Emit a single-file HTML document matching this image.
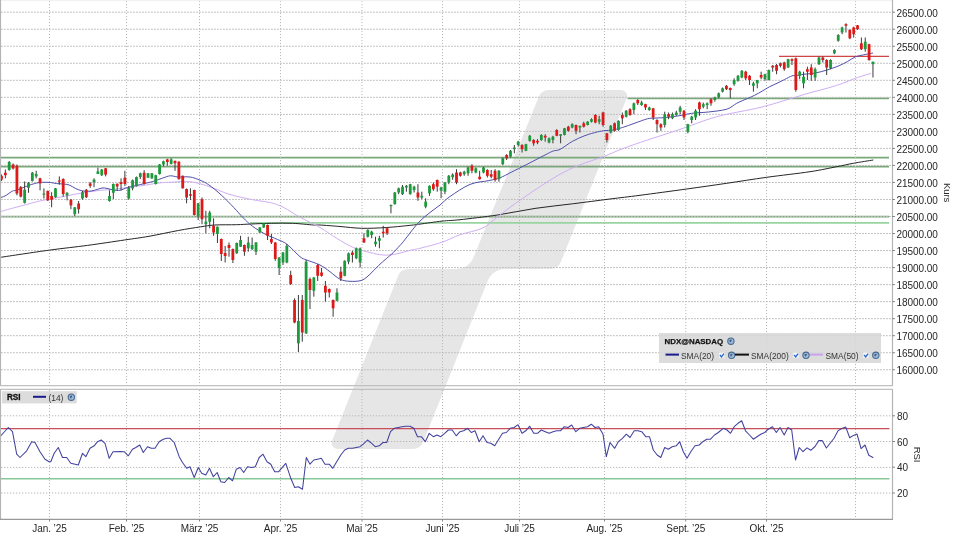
<!DOCTYPE html>
<html><head><meta charset="utf-8"><style>
html,body{margin:0;padding:0;background:#fff;width:960px;height:540px;overflow:hidden}
svg{display:block;filter:blur(0.35px)}
</style></head><body>
<svg width="960" height="540" viewBox="0 0 960 540">
<rect x="0" y="0" width="960" height="540" fill="#ffffff"/>
<path d="M538.81,96.86 A11,11 0 0 1 549.00,90.00 L621.12,90.00 A6,6 0 0 1 626.69,98.24 L560.77,262.10 A11,11 0 0 1 550.57,269.00 L505.26,269.00 A19,19 0 0 0 487.62,280.94 L423.17,442.09 A11,11 0 0 1 412.95,449.00 L337.66,449.00 A6,6 0 0 1 332.09,440.77 L398.03,275.91 A11,11 0 0 1 408.25,269.00 L456.69,269.00 A18,18 0 0 0 473.36,257.78 Z" fill="#e6e6e6"/>
<g stroke="#7aa87a" stroke-width="1.8" fill="none">
<line x1="1" y1="157.7" x2="889" y2="157.7"/>
<line x1="1" y1="166.7" x2="889" y2="166.7"/>
<line x1="1" y1="216.7" x2="889" y2="216.7"/>
<line x1="250" y1="222.8" x2="889" y2="222.8" stroke="#98d4a0" stroke-width="1.7"/>
<line x1="627.5" y1="98.3" x2="889" y2="98.3"/>
</g>
<line x1="779" y1="56.3" x2="889" y2="56.3" stroke="#d04545" stroke-width="1.3"/>
<g stroke="#bdbdbd" stroke-width="1" stroke-dasharray="1.8 1.2" fill="none">
<line x1="1" y1="369.75" x2="892" y2="369.75"/>
<line x1="1" y1="352.72" x2="892" y2="352.72"/>
<line x1="1" y1="335.69" x2="892" y2="335.69"/>
<line x1="1" y1="318.67" x2="892" y2="318.67"/>
<line x1="1" y1="301.64" x2="892" y2="301.64"/>
<line x1="1" y1="284.62" x2="892" y2="284.62"/>
<line x1="1" y1="267.59" x2="892" y2="267.59"/>
<line x1="1" y1="250.56" x2="892" y2="250.56"/>
<line x1="1" y1="233.54" x2="892" y2="233.54"/>
<line x1="1" y1="216.51" x2="892" y2="216.51"/>
<line x1="1" y1="199.49" x2="892" y2="199.49"/>
<line x1="1" y1="182.46" x2="892" y2="182.46"/>
<line x1="1" y1="165.43" x2="892" y2="165.43"/>
<line x1="1" y1="148.41" x2="892" y2="148.41"/>
<line x1="1" y1="131.38" x2="892" y2="131.38"/>
<line x1="1" y1="114.36" x2="892" y2="114.36"/>
<line x1="1" y1="97.33" x2="892" y2="97.33"/>
<line x1="1" y1="80.30" x2="892" y2="80.30"/>
<line x1="1" y1="63.28" x2="892" y2="63.28"/>
<line x1="1" y1="46.25" x2="892" y2="46.25"/>
<line x1="1" y1="29.23" x2="892" y2="29.23"/>
<line x1="1" y1="12.20" x2="892" y2="12.20"/>
</g>
<g stroke="#b8b8b8" stroke-width="1" stroke-dasharray="1.3 1.7" fill="none">
<line x1="1" y1="415.8" x2="892" y2="415.8"/>
<line x1="1" y1="441.5" x2="892" y2="441.5"/>
<line x1="1" y1="467.4" x2="892" y2="467.4"/>
<line x1="1" y1="493.0" x2="892" y2="493.0"/>
</g>
<g stroke="#b8b8b8" stroke-width="1" stroke-dasharray="1.1 1.9" fill="none">
<line x1="49.5" y1="1" x2="49.5" y2="385"/>
<line x1="126.5" y1="1" x2="126.5" y2="385"/>
<line x1="199.5" y1="1" x2="199.5" y2="385"/>
<line x1="280.5" y1="1" x2="280.5" y2="385"/>
<line x1="362" y1="1" x2="362" y2="385"/>
<line x1="442.5" y1="1" x2="442.5" y2="385"/>
<line x1="519.5" y1="1" x2="519.5" y2="385"/>
<line x1="604.5" y1="1" x2="604.5" y2="385"/>
<line x1="685.75" y1="1" x2="685.75" y2="385"/>
<line x1="766.5" y1="1" x2="766.5" y2="385"/>
<line x1="855.5" y1="1" x2="855.5" y2="385"/>
<line x1="49.5" y1="390" x2="49.5" y2="519"/>
<line x1="126.5" y1="390" x2="126.5" y2="519"/>
<line x1="199.5" y1="390" x2="199.5" y2="519"/>
<line x1="280.5" y1="390" x2="280.5" y2="519"/>
<line x1="362" y1="390" x2="362" y2="519"/>
<line x1="442.5" y1="390" x2="442.5" y2="519"/>
<line x1="519.5" y1="390" x2="519.5" y2="519"/>
<line x1="604.5" y1="390" x2="604.5" y2="519"/>
<line x1="685.75" y1="390" x2="685.75" y2="519"/>
<line x1="766.5" y1="390" x2="766.5" y2="519"/>
<line x1="855.5" y1="390" x2="855.5" y2="519"/>
</g>
<path d="M0.00,257.40 C8.27,256.18 35.02,252.10 49.60,250.10 C64.18,248.10 75.03,247.08 87.50,245.40 C99.97,243.72 114.15,241.52 124.40,240.00 C134.65,238.48 140.02,237.88 149.00,236.30 C157.98,234.72 169.77,232.07 178.30,230.50 C186.83,228.93 194.12,227.82 200.20,226.90 C206.28,225.98 208.73,225.37 214.80,225.00 C220.87,224.63 230.60,224.87 236.60,224.70 C242.60,224.53 244.95,224.23 250.80,224.00 C256.65,223.77 264.75,223.42 271.70,223.30 C278.65,223.18 285.57,223.02 292.50,223.30 C299.43,223.58 308.72,224.72 313.30,225.00 C317.88,225.28 315.55,224.75 320.00,225.00 C324.45,225.25 333.05,225.95 340.00,226.50 C346.95,227.05 353.92,228.13 361.70,228.30 C369.48,228.47 378.10,228.05 386.70,227.50 C395.30,226.95 407.75,225.57 413.30,225.00 C418.85,224.43 415.18,224.75 420.00,224.10 C424.82,223.45 435.53,221.83 442.20,221.10 C448.87,220.37 450.78,220.72 460.00,219.70 C469.22,218.68 485.00,216.88 497.50,215.00 C510.00,213.12 522.48,210.27 535.00,208.40 C547.52,206.53 560.10,205.37 572.60,203.80 C585.10,202.23 598.77,200.42 610.00,199.00 C621.23,197.58 627.22,196.97 640.00,195.30 C652.78,193.63 672.25,191.00 686.70,189.00 C701.15,187.00 713.37,185.25 726.70,183.30 C740.03,181.35 752.82,179.23 766.70,177.30 C780.58,175.37 798.33,173.47 810.00,171.70 C821.67,169.93 829.48,168.10 836.70,166.70 C843.92,165.30 847.20,164.42 853.30,163.30 C859.40,162.18 869.97,160.55 873.30,160.00 " fill="none" stroke="#262626" stroke-width="1.0" stroke-linejoin="round"/>
<path d="M0.00,211.70 C2.10,211.12 8.40,209.33 12.60,208.20 C16.80,207.07 21.00,206.03 25.20,204.90 C29.40,203.77 33.60,202.40 37.80,201.40 C42.00,200.40 46.20,199.70 50.40,198.90 C54.60,198.10 58.80,197.40 63.00,196.60 C67.20,195.80 71.40,194.88 75.60,194.10 C79.80,193.32 84.00,192.53 88.20,191.90 C92.40,191.27 96.60,190.72 100.80,190.30 C105.00,189.88 110.20,189.70 113.40,189.40 C116.60,189.10 115.53,189.08 120.00,188.50 C124.47,187.92 133.70,186.82 140.20,185.90 C146.70,184.98 153.75,183.62 159.00,183.00 C164.25,182.38 166.53,182.42 171.70,182.20 C176.87,181.98 183.82,181.00 190.00,181.70 C196.18,182.40 202.25,184.32 208.75,186.40 C215.25,188.48 221.71,191.98 229.00,194.20 C236.29,196.42 245.46,198.27 252.50,199.70 C259.54,201.13 266.04,201.50 271.25,202.80 C276.46,204.10 279.06,205.15 283.75,207.50 C288.44,209.85 293.36,213.57 299.40,216.90 C305.44,220.23 313.78,223.93 320.00,227.50 C326.22,231.07 331.15,234.97 336.70,238.30 C342.25,241.63 347.75,245.13 353.30,247.50 C358.85,249.87 365.00,251.25 370.00,252.50 C375.00,253.75 379.13,254.72 383.30,255.00 C387.47,255.28 390.27,255.03 395.00,254.20 C399.73,253.37 407.53,250.98 411.70,250.00 C415.87,249.02 414.92,249.60 420.00,248.30 C425.08,247.00 435.53,244.47 442.20,242.20 C448.87,239.93 453.28,237.05 460.00,234.70 C466.72,232.35 476.25,231.07 482.50,228.10 C488.75,225.13 491.87,221.12 497.50,216.90 C503.13,212.68 508.80,208.12 516.30,202.80 C523.80,197.48 534.58,190.10 542.50,185.00 C550.42,179.90 557.12,175.73 563.80,172.20 C570.48,168.67 576.02,166.38 582.60,163.80 C589.18,161.22 596.65,159.21 603.30,156.70 C609.95,154.19 615.13,151.53 622.50,148.75 C629.87,145.97 637.92,143.22 647.50,140.00 C657.08,136.78 668.47,133.28 680.00,129.40 C691.53,125.52 703.37,120.35 716.70,116.70 C730.03,113.05 747.88,110.45 760.00,107.50 C772.12,104.55 781.25,101.40 789.40,99.00 C797.55,96.60 802.42,94.95 808.90,93.10 C815.38,91.25 822.70,89.52 828.30,87.90 C833.90,86.28 837.97,85.02 842.50,83.40 C847.03,81.78 850.75,79.87 855.50,78.20 C860.25,76.53 868.42,74.20 871.00,73.40 " fill="none" stroke="#cfaef2" stroke-width="1.0" stroke-linejoin="round"/>
<path d="M0.00,197.60 C0.83,197.33 2.90,197.10 5.00,196.00 C7.10,194.90 10.70,191.95 12.60,191.00 C14.50,190.05 13.67,191.25 16.40,190.30 C19.13,189.35 25.23,186.60 29.00,185.30 C32.77,184.00 36.50,183.00 39.00,182.50 C41.50,182.00 42.10,182.30 44.00,182.30 C45.90,182.30 48.28,182.28 50.40,182.50 C52.52,182.72 54.60,183.35 56.70,183.60 C58.80,183.85 60.90,183.77 63.00,184.00 C65.10,184.23 67.20,184.25 69.30,185.00 C71.40,185.75 73.50,187.53 75.60,188.50 C77.70,189.47 79.80,190.33 81.90,190.80 C84.00,191.27 86.10,191.38 88.20,191.30 C90.30,191.22 92.20,190.85 94.50,190.30 C96.80,189.75 99.92,188.32 102.00,188.00 C104.08,187.68 105.10,188.07 107.00,188.40 C108.90,188.73 111.23,189.68 113.40,190.00 C115.57,190.32 117.63,190.72 120.00,190.30 C122.37,189.88 124.23,188.45 127.60,187.50 C130.97,186.55 136.00,185.60 140.20,184.60 C144.40,183.60 149.02,182.60 152.80,181.50 C156.58,180.40 159.97,178.95 162.90,178.00 C165.83,177.05 167.88,175.97 170.40,175.80 C172.92,175.63 174.73,176.80 178.00,177.00 C181.27,177.20 186.33,176.47 190.00,177.00 C193.67,177.53 196.88,178.90 200.00,180.20 C203.12,181.50 205.21,182.33 208.75,184.80 C212.29,187.27 217.08,191.22 221.25,195.00 C225.42,198.78 230.11,203.72 233.75,207.50 C237.39,211.28 239.97,214.57 243.10,217.70 C246.22,220.82 248.85,223.53 252.50,226.25 C256.15,228.97 260.83,231.79 265.00,234.00 C269.17,236.21 273.85,237.80 277.50,239.50 C281.15,241.20 283.15,241.33 286.90,244.20 C290.65,247.07 296.70,254.07 300.00,256.70 C303.30,259.33 303.37,258.62 306.70,260.00 C310.03,261.38 316.12,263.05 320.00,265.00 C323.88,266.95 326.67,269.33 330.00,271.70 C333.33,274.07 336.67,277.60 340.00,279.20 C343.33,280.80 346.38,281.12 350.00,281.30 C353.62,281.48 358.37,281.48 361.70,280.30 C365.03,279.12 367.23,276.62 370.00,274.20 C372.77,271.78 375.52,268.45 378.30,265.80 C381.08,263.15 384.20,260.52 386.70,258.30 C389.20,256.08 390.53,255.27 393.30,252.50 C396.07,249.73 400.23,245.32 403.30,241.70 C406.37,238.08 408.92,234.25 411.70,230.80 C414.48,227.35 416.95,224.05 420.00,221.00 C423.05,217.95 426.67,215.17 430.00,212.50 C433.33,209.83 436.67,207.67 440.00,205.00 C443.33,202.33 445.00,199.93 450.00,196.50 C455.00,193.07 463.53,187.05 470.00,184.40 C476.47,181.75 483.80,181.70 488.80,180.60 C493.80,179.50 496.25,179.20 500.00,177.80 C503.75,176.40 506.92,174.38 511.30,172.20 C515.68,170.02 520.68,167.57 526.30,164.70 C531.92,161.83 540.57,157.27 545.00,155.00 C549.43,152.73 550.40,152.03 552.90,151.10 C555.40,150.17 556.73,151.03 560.00,149.40 C563.27,147.77 568.33,143.60 572.50,141.30 C576.67,139.00 580.83,137.17 585.00,135.60 C589.17,134.03 594.17,132.73 597.50,131.90 C600.83,131.07 602.50,130.92 605.00,130.60 C607.50,130.28 609.58,130.52 612.50,130.00 C615.42,129.48 618.75,128.65 622.50,127.50 C626.25,126.35 630.83,124.56 635.00,123.10 C639.17,121.64 644.17,119.58 647.50,118.75 C650.83,117.92 651.87,118.31 655.00,118.10 C658.13,117.89 662.13,117.92 666.30,117.50 C670.47,117.08 675.77,116.30 680.00,115.60 C684.23,114.90 686.98,113.90 691.70,113.30 C696.42,112.70 702.47,112.68 708.30,112.00 C714.13,111.32 721.97,110.65 726.70,109.20 C731.43,107.75 733.25,105.08 736.70,103.30 C740.15,101.52 744.38,99.85 747.40,98.50 C750.42,97.15 752.33,96.43 754.80,95.20 C757.27,93.97 759.73,92.52 762.20,91.10 C764.67,89.68 767.13,88.00 769.60,86.70 C772.07,85.40 774.53,84.48 777.00,83.30 C779.47,82.12 781.92,80.83 784.40,79.60 C786.88,78.37 789.92,76.57 791.90,75.90 C793.88,75.23 794.33,75.87 796.30,75.60 C798.27,75.33 800.53,74.73 803.70,74.30 C806.87,73.87 811.42,73.72 815.30,73.00 C819.18,72.28 823.10,71.18 827.00,70.00 C830.90,68.82 835.25,67.33 838.70,65.90 C842.15,64.47 844.90,62.92 847.70,61.40 C850.50,59.88 852.90,57.88 855.50,56.80 C858.10,55.72 860.38,55.53 863.30,54.90 C866.22,54.27 871.38,53.32 873.00,53.00 " fill="none" stroke="#5050ac" stroke-width="1.0" stroke-linejoin="round"/>
<g>
<line x1="1.50" y1="174.5" x2="1.50" y2="181.0" stroke="#3a3a3a" stroke-width="1"/>
<rect x="0.10" y="175.8" width="2.8" height="3.8" fill="#dd1a1a"/>
<line x1="5.36" y1="169.5" x2="5.36" y2="178.3" stroke="#3a3a3a" stroke-width="1"/>
<rect x="3.96" y="172.7" width="2.8" height="2.5" fill="#dd1a1a"/>
<line x1="9.21" y1="161.0" x2="9.21" y2="170.8" stroke="#3a3a3a" stroke-width="1"/>
<rect x="7.81" y="162.0" width="2.8" height="8.0" fill="#1d9a3c"/>
<line x1="13.07" y1="163.5" x2="13.07" y2="169.5" stroke="#3a3a3a" stroke-width="1"/>
<rect x="11.67" y="164.5" width="2.8" height="4.0" fill="#dd1a1a"/>
<line x1="16.92" y1="164.5" x2="16.92" y2="195.3" stroke="#3a3a3a" stroke-width="1"/>
<rect x="15.52" y="165.7" width="2.8" height="27.8" fill="#dd1a1a"/>
<line x1="20.78" y1="186.0" x2="20.78" y2="197.5" stroke="#3a3a3a" stroke-width="1"/>
<rect x="19.38" y="187.0" width="2.8" height="9.6" fill="#dd1a1a"/>
<line x1="24.64" y1="181.5" x2="24.64" y2="203.5" stroke="#3a3a3a" stroke-width="1"/>
<rect x="23.24" y="189.7" width="2.8" height="13.2" fill="#1d9a3c"/>
<line x1="28.49" y1="182.0" x2="28.49" y2="192.8" stroke="#3a3a3a" stroke-width="1"/>
<rect x="27.09" y="182.7" width="2.8" height="5.1" fill="#1d9a3c"/>
<line x1="32.35" y1="172.0" x2="32.35" y2="181.5" stroke="#3a3a3a" stroke-width="1"/>
<rect x="30.95" y="172.7" width="2.8" height="8.2" fill="#1d9a3c"/>
<line x1="36.20" y1="170.8" x2="36.20" y2="178.3" stroke="#3a3a3a" stroke-width="1"/>
<rect x="34.80" y="174.0" width="2.8" height="2.4" fill="#1d9a3c"/>
<line x1="40.06" y1="177.7" x2="40.06" y2="190.3" stroke="#3a3a3a" stroke-width="1"/>
<rect x="38.66" y="178.3" width="2.8" height="5.1" fill="#dd1a1a"/>
<line x1="43.92" y1="188.4" x2="43.92" y2="198.5" stroke="#3a3a3a" stroke-width="1"/>
<rect x="42.52" y="193.5" width="2.8" height="1.2" fill="#1d9a3c"/>
<line x1="47.77" y1="190.5" x2="47.77" y2="201.0" stroke="#3a3a3a" stroke-width="1"/>
<rect x="46.37" y="191.0" width="2.8" height="9.4" fill="#dd1a1a"/>
<line x1="51.63" y1="192.2" x2="51.63" y2="207.3" stroke="#3a3a3a" stroke-width="1"/>
<rect x="50.23" y="196.0" width="2.8" height="3.7" fill="#dd1a1a"/>
<line x1="55.48" y1="188.0" x2="55.48" y2="197.8" stroke="#3a3a3a" stroke-width="1"/>
<rect x="54.08" y="188.4" width="2.8" height="8.8" fill="#1d9a3c"/>
<line x1="59.34" y1="176.4" x2="59.34" y2="184.6" stroke="#3a3a3a" stroke-width="1"/>
<rect x="57.94" y="180.5" width="2.8" height="1.2" fill="#dd1a1a"/>
<line x1="63.20" y1="178.3" x2="63.20" y2="196.6" stroke="#3a3a3a" stroke-width="1"/>
<rect x="61.80" y="179.0" width="2.8" height="15.0" fill="#dd1a1a"/>
<line x1="67.05" y1="192.2" x2="67.05" y2="200.4" stroke="#3a3a3a" stroke-width="1"/>
<rect x="65.65" y="192.8" width="2.8" height="2.5" fill="#1d9a3c"/>
<line x1="70.91" y1="199.0" x2="70.91" y2="209.2" stroke="#3a3a3a" stroke-width="1"/>
<rect x="69.51" y="199.7" width="2.8" height="5.7" fill="#dd1a1a"/>
<line x1="74.76" y1="207.0" x2="74.76" y2="216.0" stroke="#3a3a3a" stroke-width="1"/>
<rect x="73.36" y="207.3" width="2.8" height="6.9" fill="#1d9a3c"/>
<line x1="78.62" y1="201.0" x2="78.62" y2="213.6" stroke="#3a3a3a" stroke-width="1"/>
<rect x="77.22" y="203.5" width="2.8" height="5.7" fill="#dd1a1a"/>
<line x1="82.48" y1="191.0" x2="82.48" y2="199.7" stroke="#3a3a3a" stroke-width="1"/>
<rect x="81.08" y="192.2" width="2.8" height="6.3" fill="#1d9a3c"/>
<line x1="86.33" y1="189.0" x2="86.33" y2="198.0" stroke="#3a3a3a" stroke-width="1"/>
<rect x="84.93" y="189.7" width="2.8" height="7.5" fill="#dd1a1a"/>
<line x1="90.19" y1="182.1" x2="90.19" y2="187.8" stroke="#3a3a3a" stroke-width="1"/>
<rect x="88.79" y="183.4" width="2.8" height="2.5" fill="#dd1a1a"/>
<line x1="94.04" y1="178.3" x2="94.04" y2="187.2" stroke="#3a3a3a" stroke-width="1"/>
<rect x="92.64" y="179.6" width="2.8" height="2.5" fill="#1d9a3c"/>
<line x1="97.90" y1="167.6" x2="97.90" y2="174.0" stroke="#3a3a3a" stroke-width="1"/>
<rect x="96.50" y="171.4" width="2.8" height="2.6" fill="#1d9a3c"/>
<line x1="101.76" y1="169.0" x2="101.76" y2="176.0" stroke="#3a3a3a" stroke-width="1"/>
<rect x="100.36" y="169.5" width="2.8" height="5.7" fill="#1d9a3c"/>
<line x1="105.61" y1="168.0" x2="105.61" y2="176.4" stroke="#3a3a3a" stroke-width="1"/>
<rect x="104.21" y="168.3" width="2.8" height="6.3" fill="#dd1a1a"/>
<line x1="109.47" y1="190.3" x2="109.47" y2="201.6" stroke="#3a3a3a" stroke-width="1"/>
<rect x="108.07" y="196.0" width="2.8" height="5.0" fill="#1d9a3c"/>
<line x1="113.32" y1="183.5" x2="113.32" y2="199.0" stroke="#3a3a3a" stroke-width="1"/>
<rect x="111.92" y="184.0" width="2.8" height="8.8" fill="#1d9a3c"/>
<line x1="117.18" y1="183.4" x2="117.18" y2="190.3" stroke="#3a3a3a" stroke-width="1"/>
<rect x="115.78" y="183.8" width="2.8" height="2.7" fill="#dd1a1a"/>
<line x1="121.04" y1="178.3" x2="121.04" y2="190.3" stroke="#3a3a3a" stroke-width="1"/>
<rect x="119.64" y="182.1" width="2.8" height="1.9" fill="#dd1a1a"/>
<line x1="124.89" y1="170.8" x2="124.89" y2="185.9" stroke="#3a3a3a" stroke-width="1"/>
<rect x="123.49" y="177.7" width="2.8" height="6.3" fill="#dd1a1a"/>
<line x1="128.75" y1="186.0" x2="128.75" y2="199.7" stroke="#3a3a3a" stroke-width="1"/>
<rect x="127.35" y="187.8" width="2.8" height="10.7" fill="#1d9a3c"/>
<line x1="132.60" y1="179.5" x2="132.60" y2="190.3" stroke="#3a3a3a" stroke-width="1"/>
<rect x="131.20" y="180.2" width="2.8" height="8.2" fill="#1d9a3c"/>
<line x1="136.46" y1="176.5" x2="136.46" y2="186.5" stroke="#3a3a3a" stroke-width="1"/>
<rect x="135.06" y="177.0" width="2.8" height="9.0" fill="#1d9a3c"/>
<line x1="140.32" y1="172.7" x2="140.32" y2="179.0" stroke="#3a3a3a" stroke-width="1"/>
<rect x="138.92" y="173.3" width="2.8" height="3.7" fill="#1d9a3c"/>
<line x1="144.17" y1="170.2" x2="144.17" y2="184.6" stroke="#3a3a3a" stroke-width="1"/>
<rect x="142.77" y="172.7" width="2.8" height="11.3" fill="#dd1a1a"/>
<line x1="148.03" y1="173.0" x2="148.03" y2="178.0" stroke="#3a3a3a" stroke-width="1"/>
<rect x="146.63" y="173.3" width="2.8" height="4.4" fill="#1d9a3c"/>
<line x1="151.88" y1="173.0" x2="151.88" y2="178.8" stroke="#3a3a3a" stroke-width="1"/>
<rect x="150.48" y="173.3" width="2.8" height="5.0" fill="#1d9a3c"/>
<line x1="155.74" y1="174.8" x2="155.74" y2="184.5" stroke="#3a3a3a" stroke-width="1"/>
<rect x="154.34" y="175.2" width="2.8" height="8.8" fill="#1d9a3c"/>
<line x1="159.60" y1="164.0" x2="159.60" y2="174.6" stroke="#3a3a3a" stroke-width="1"/>
<rect x="158.20" y="164.5" width="2.8" height="9.5" fill="#1d9a3c"/>
<line x1="163.45" y1="160.7" x2="163.45" y2="166.4" stroke="#3a3a3a" stroke-width="1"/>
<rect x="162.05" y="161.3" width="2.8" height="3.2" fill="#1d9a3c"/>
<line x1="167.31" y1="158.8" x2="167.31" y2="165.7" stroke="#3a3a3a" stroke-width="1"/>
<rect x="165.91" y="159.4" width="2.8" height="2.6" fill="#dd1a1a"/>
<line x1="171.16" y1="158.2" x2="171.16" y2="164.5" stroke="#3a3a3a" stroke-width="1"/>
<rect x="169.76" y="159.4" width="2.8" height="4.5" fill="#1d9a3c"/>
<line x1="175.02" y1="160.7" x2="175.02" y2="170.8" stroke="#3a3a3a" stroke-width="1"/>
<rect x="173.62" y="160.8" width="2.8" height="2.5" fill="#dd1a1a"/>
<line x1="178.88" y1="161.3" x2="178.88" y2="179.6" stroke="#3a3a3a" stroke-width="1"/>
<rect x="177.48" y="161.7" width="2.8" height="17.5" fill="#dd1a1a"/>
<line x1="182.73" y1="175.5" x2="182.73" y2="188.6" stroke="#3a3a3a" stroke-width="1"/>
<rect x="181.33" y="175.8" width="2.8" height="12.5" fill="#dd1a1a"/>
<line x1="186.59" y1="188.5" x2="186.59" y2="203.3" stroke="#3a3a3a" stroke-width="1"/>
<rect x="185.19" y="189.0" width="2.8" height="8.5" fill="#dd1a1a"/>
<line x1="190.44" y1="188.3" x2="190.44" y2="200.0" stroke="#3a3a3a" stroke-width="1"/>
<rect x="189.04" y="194.2" width="2.8" height="1.6" fill="#dd1a1a"/>
<line x1="194.30" y1="189.7" x2="194.30" y2="215.5" stroke="#3a3a3a" stroke-width="1"/>
<rect x="192.90" y="190.0" width="2.8" height="25.0" fill="#dd1a1a"/>
<line x1="198.16" y1="203.0" x2="198.16" y2="220.0" stroke="#3a3a3a" stroke-width="1"/>
<rect x="196.76" y="203.3" width="2.8" height="13.4" fill="#1d9a3c"/>
<line x1="202.01" y1="197.5" x2="202.01" y2="224.2" stroke="#3a3a3a" stroke-width="1"/>
<rect x="200.61" y="199.2" width="2.8" height="20.0" fill="#dd1a1a"/>
<line x1="205.87" y1="210.8" x2="205.87" y2="233.3" stroke="#3a3a3a" stroke-width="1"/>
<rect x="204.47" y="221.7" width="2.8" height="2.5" fill="#1d9a3c"/>
<line x1="209.72" y1="210.8" x2="209.72" y2="228.3" stroke="#3a3a3a" stroke-width="1"/>
<rect x="208.32" y="212.5" width="2.8" height="9.2" fill="#1d9a3c"/>
<line x1="213.58" y1="218.3" x2="213.58" y2="235.8" stroke="#3a3a3a" stroke-width="1"/>
<rect x="212.18" y="225.8" width="2.8" height="6.7" fill="#dd1a1a"/>
<line x1="217.44" y1="226.5" x2="217.44" y2="243.0" stroke="#3a3a3a" stroke-width="1"/>
<rect x="216.04" y="226.7" width="2.8" height="7.3" fill="#1d9a3c"/>
<line x1="221.29" y1="238.5" x2="221.29" y2="261.0" stroke="#3a3a3a" stroke-width="1"/>
<rect x="219.89" y="239.0" width="2.8" height="15.0" fill="#dd1a1a"/>
<line x1="225.15" y1="246.0" x2="225.15" y2="262.5" stroke="#3a3a3a" stroke-width="1"/>
<rect x="223.75" y="253.0" width="2.8" height="3.0" fill="#dd1a1a"/>
<line x1="229.00" y1="242.5" x2="229.00" y2="256.7" stroke="#3a3a3a" stroke-width="1"/>
<rect x="227.60" y="245.0" width="2.8" height="3.0" fill="#dd1a1a"/>
<line x1="232.86" y1="248.5" x2="232.86" y2="263.0" stroke="#3a3a3a" stroke-width="1"/>
<rect x="231.46" y="249.0" width="2.8" height="11.0" fill="#dd1a1a"/>
<line x1="236.72" y1="242.5" x2="236.72" y2="253.8" stroke="#3a3a3a" stroke-width="1"/>
<rect x="235.32" y="243.0" width="2.8" height="10.3" fill="#1d9a3c"/>
<line x1="240.57" y1="235.8" x2="240.57" y2="247.0" stroke="#3a3a3a" stroke-width="1"/>
<rect x="239.17" y="240.0" width="2.8" height="6.7" fill="#1d9a3c"/>
<line x1="244.43" y1="244.5" x2="244.43" y2="255.8" stroke="#3a3a3a" stroke-width="1"/>
<rect x="243.03" y="245.0" width="2.8" height="6.7" fill="#dd1a1a"/>
<line x1="248.28" y1="236.7" x2="248.28" y2="251.7" stroke="#3a3a3a" stroke-width="1"/>
<rect x="246.88" y="242.5" width="2.8" height="5.8" fill="#1d9a3c"/>
<line x1="252.14" y1="237.5" x2="252.14" y2="250.0" stroke="#3a3a3a" stroke-width="1"/>
<rect x="250.74" y="245.0" width="2.8" height="4.0" fill="#1d9a3c"/>
<line x1="256.00" y1="242.0" x2="256.00" y2="255.0" stroke="#3a3a3a" stroke-width="1"/>
<rect x="254.60" y="242.5" width="2.8" height="9.2" fill="#1d9a3c"/>
<line x1="259.85" y1="227.0" x2="259.85" y2="233.0" stroke="#3a3a3a" stroke-width="1"/>
<rect x="258.45" y="227.5" width="2.8" height="5.0" fill="#1d9a3c"/>
<line x1="263.71" y1="223.0" x2="263.71" y2="228.0" stroke="#3a3a3a" stroke-width="1"/>
<rect x="262.31" y="223.3" width="2.8" height="4.2" fill="#1d9a3c"/>
<line x1="267.56" y1="224.5" x2="267.56" y2="240.0" stroke="#3a3a3a" stroke-width="1"/>
<rect x="266.16" y="225.0" width="2.8" height="10.8" fill="#dd1a1a"/>
<line x1="271.42" y1="234.0" x2="271.42" y2="244.0" stroke="#3a3a3a" stroke-width="1"/>
<rect x="270.02" y="239.0" width="2.8" height="3.5" fill="#dd1a1a"/>
<line x1="275.28" y1="242.0" x2="275.28" y2="260.8" stroke="#3a3a3a" stroke-width="1"/>
<rect x="273.88" y="242.5" width="2.8" height="16.5" fill="#dd1a1a"/>
<line x1="279.13" y1="257.0" x2="279.13" y2="275.0" stroke="#3a3a3a" stroke-width="1"/>
<rect x="277.73" y="257.5" width="2.8" height="10.5" fill="#1d9a3c"/>
<line x1="282.99" y1="252.0" x2="282.99" y2="265.0" stroke="#3a3a3a" stroke-width="1"/>
<rect x="281.59" y="252.5" width="2.8" height="10.0" fill="#1d9a3c"/>
<line x1="286.84" y1="244.0" x2="286.84" y2="263.3" stroke="#3a3a3a" stroke-width="1"/>
<rect x="285.44" y="245.8" width="2.8" height="16.7" fill="#1d9a3c"/>
<line x1="290.70" y1="270.8" x2="290.70" y2="285.0" stroke="#3a3a3a" stroke-width="1"/>
<rect x="289.30" y="275.0" width="2.8" height="9.0" fill="#dd1a1a"/>
<line x1="294.56" y1="298.3" x2="294.56" y2="323.3" stroke="#3a3a3a" stroke-width="1"/>
<rect x="293.16" y="300.0" width="2.8" height="22.5" fill="#dd1a1a"/>
<line x1="298.41" y1="295.0" x2="298.41" y2="352.0" stroke="#3a3a3a" stroke-width="1"/>
<rect x="297.01" y="321.0" width="2.8" height="22.3" fill="#1d9a3c"/>
<line x1="302.27" y1="295.0" x2="302.27" y2="341.7" stroke="#3a3a3a" stroke-width="1"/>
<rect x="300.87" y="300.0" width="2.8" height="32.5" fill="#dd1a1a"/>
<line x1="306.12" y1="260.0" x2="306.12" y2="334.0" stroke="#3a3a3a" stroke-width="1"/>
<rect x="304.72" y="261.7" width="2.8" height="71.6" fill="#1d9a3c"/>
<line x1="309.98" y1="277.5" x2="309.98" y2="309.0" stroke="#3a3a3a" stroke-width="1"/>
<rect x="308.58" y="279.0" width="2.8" height="11.0" fill="#dd1a1a"/>
<line x1="313.84" y1="277.0" x2="313.84" y2="296.7" stroke="#3a3a3a" stroke-width="1"/>
<rect x="312.44" y="277.5" width="2.8" height="13.3" fill="#1d9a3c"/>
<line x1="317.69" y1="264.0" x2="317.69" y2="281.0" stroke="#3a3a3a" stroke-width="1"/>
<rect x="316.29" y="265.0" width="2.8" height="10.8" fill="#dd1a1a"/>
<line x1="321.55" y1="268.0" x2="321.55" y2="276.7" stroke="#3a3a3a" stroke-width="1"/>
<rect x="320.15" y="272.5" width="2.8" height="3.3" fill="#dd1a1a"/>
<line x1="325.40" y1="281.0" x2="325.40" y2="301.7" stroke="#3a3a3a" stroke-width="1"/>
<rect x="324.00" y="285.8" width="2.8" height="6.7" fill="#dd1a1a"/>
<line x1="329.26" y1="288.5" x2="329.26" y2="297.5" stroke="#3a3a3a" stroke-width="1"/>
<rect x="327.86" y="289.0" width="2.8" height="3.5" fill="#dd1a1a"/>
<line x1="333.12" y1="299.5" x2="333.12" y2="316.7" stroke="#3a3a3a" stroke-width="1"/>
<rect x="331.72" y="300.0" width="2.8" height="8.3" fill="#dd1a1a"/>
<line x1="336.97" y1="288.3" x2="336.97" y2="301.3" stroke="#3a3a3a" stroke-width="1"/>
<rect x="335.57" y="292.5" width="2.8" height="8.3" fill="#1d9a3c"/>
<line x1="340.83" y1="266.7" x2="340.83" y2="281.0" stroke="#3a3a3a" stroke-width="1"/>
<rect x="339.43" y="271.7" width="2.8" height="6.6" fill="#dd1a1a"/>
<line x1="344.68" y1="260.3" x2="344.68" y2="276.3" stroke="#3a3a3a" stroke-width="1"/>
<rect x="343.28" y="260.8" width="2.8" height="15.0" fill="#1d9a3c"/>
<line x1="348.54" y1="252.5" x2="348.54" y2="264.2" stroke="#3a3a3a" stroke-width="1"/>
<rect x="347.14" y="253.3" width="2.8" height="8.4" fill="#1d9a3c"/>
<line x1="352.40" y1="250.8" x2="352.40" y2="262.5" stroke="#3a3a3a" stroke-width="1"/>
<rect x="351.00" y="252.5" width="2.8" height="2.5" fill="#dd1a1a"/>
<line x1="356.25" y1="247.5" x2="356.25" y2="259.2" stroke="#3a3a3a" stroke-width="1"/>
<rect x="354.85" y="248.3" width="2.8" height="10.0" fill="#1d9a3c"/>
<line x1="360.11" y1="247.5" x2="360.11" y2="267.5" stroke="#3a3a3a" stroke-width="1"/>
<rect x="358.71" y="248.3" width="2.8" height="14.2" fill="#1d9a3c"/>
<line x1="363.96" y1="233.3" x2="363.96" y2="242.9" stroke="#3a3a3a" stroke-width="1"/>
<rect x="362.56" y="238.3" width="2.8" height="4.2" fill="#dd1a1a"/>
<line x1="367.82" y1="229.2" x2="367.82" y2="237.5" stroke="#3a3a3a" stroke-width="1"/>
<rect x="366.42" y="230.0" width="2.8" height="6.7" fill="#1d9a3c"/>
<line x1="371.68" y1="230.8" x2="371.68" y2="238.3" stroke="#3a3a3a" stroke-width="1"/>
<rect x="370.28" y="231.7" width="2.8" height="3.3" fill="#1d9a3c"/>
<line x1="375.53" y1="236.7" x2="375.53" y2="246.7" stroke="#3a3a3a" stroke-width="1"/>
<rect x="374.13" y="241.7" width="2.8" height="2.5" fill="#1d9a3c"/>
<line x1="379.39" y1="235.8" x2="379.39" y2="248.3" stroke="#3a3a3a" stroke-width="1"/>
<rect x="377.99" y="238.3" width="2.8" height="2.5" fill="#1d9a3c"/>
<line x1="383.24" y1="225.8" x2="383.24" y2="237.5" stroke="#3a3a3a" stroke-width="1"/>
<rect x="381.84" y="231.7" width="2.8" height="1.6" fill="#dd1a1a"/>
<line x1="387.10" y1="227.5" x2="387.10" y2="235.0" stroke="#3a3a3a" stroke-width="1"/>
<rect x="385.70" y="228.3" width="2.8" height="5.0" fill="#dd1a1a"/>
<line x1="390.96" y1="204.5" x2="390.96" y2="213.3" stroke="#3a3a3a" stroke-width="1"/>
<rect x="389.56" y="205.0" width="2.8" height="1.2" fill="#1d9a3c"/>
<line x1="394.81" y1="192.0" x2="394.81" y2="204.6" stroke="#3a3a3a" stroke-width="1"/>
<rect x="393.41" y="192.5" width="2.8" height="11.7" fill="#1d9a3c"/>
<line x1="398.67" y1="187.5" x2="398.67" y2="194.2" stroke="#3a3a3a" stroke-width="1"/>
<rect x="397.27" y="188.3" width="2.8" height="4.2" fill="#1d9a3c"/>
<line x1="402.52" y1="185.0" x2="402.52" y2="195.0" stroke="#3a3a3a" stroke-width="1"/>
<rect x="401.12" y="186.7" width="2.8" height="7.5" fill="#1d9a3c"/>
<line x1="406.38" y1="185.0" x2="406.38" y2="191.7" stroke="#3a3a3a" stroke-width="1"/>
<rect x="404.98" y="185.8" width="2.8" height="1.7" fill="#1d9a3c"/>
<line x1="410.24" y1="183.8" x2="410.24" y2="194.6" stroke="#3a3a3a" stroke-width="1"/>
<rect x="408.84" y="184.2" width="2.8" height="10.0" fill="#1d9a3c"/>
<line x1="414.09" y1="185.8" x2="414.09" y2="192.5" stroke="#3a3a3a" stroke-width="1"/>
<rect x="412.69" y="186.7" width="2.8" height="3.3" fill="#1d9a3c"/>
<line x1="417.95" y1="184.2" x2="417.95" y2="200.8" stroke="#3a3a3a" stroke-width="1"/>
<rect x="416.55" y="192.5" width="2.8" height="5.0" fill="#dd1a1a"/>
<line x1="421.80" y1="191.7" x2="421.80" y2="199.2" stroke="#3a3a3a" stroke-width="1"/>
<rect x="420.40" y="195.8" width="2.8" height="1.7" fill="#1d9a3c"/>
<line x1="425.66" y1="198.3" x2="425.66" y2="208.3" stroke="#3a3a3a" stroke-width="1"/>
<rect x="424.26" y="201.7" width="2.8" height="5.0" fill="#1d9a3c"/>
<line x1="429.52" y1="185.4" x2="429.52" y2="195.8" stroke="#3a3a3a" stroke-width="1"/>
<rect x="428.12" y="185.8" width="2.8" height="7.5" fill="#1d9a3c"/>
<line x1="433.37" y1="182.5" x2="433.37" y2="190.8" stroke="#3a3a3a" stroke-width="1"/>
<rect x="431.97" y="184.2" width="2.8" height="5.0" fill="#dd1a1a"/>
<line x1="437.23" y1="179.5" x2="437.23" y2="191.7" stroke="#3a3a3a" stroke-width="1"/>
<rect x="435.83" y="180.0" width="2.8" height="6.7" fill="#dd1a1a"/>
<line x1="441.08" y1="186.7" x2="441.08" y2="198.3" stroke="#3a3a3a" stroke-width="1"/>
<rect x="439.68" y="187.5" width="2.8" height="3.0" fill="#1d9a3c"/>
<line x1="444.94" y1="182.0" x2="444.94" y2="194.2" stroke="#3a3a3a" stroke-width="1"/>
<rect x="443.54" y="182.5" width="2.8" height="9.2" fill="#1d9a3c"/>
<line x1="448.80" y1="175.0" x2="448.80" y2="184.2" stroke="#3a3a3a" stroke-width="1"/>
<rect x="447.40" y="175.8" width="2.8" height="6.7" fill="#1d9a3c"/>
<line x1="452.65" y1="173.3" x2="452.65" y2="179.8" stroke="#3a3a3a" stroke-width="1"/>
<rect x="451.25" y="174.6" width="2.8" height="2.6" fill="#1d9a3c"/>
<line x1="456.51" y1="169.2" x2="456.51" y2="184.2" stroke="#3a3a3a" stroke-width="1"/>
<rect x="455.11" y="172.5" width="2.8" height="10.0" fill="#dd1a1a"/>
<line x1="460.36" y1="171.7" x2="460.36" y2="176.7" stroke="#3a3a3a" stroke-width="1"/>
<rect x="458.96" y="172.5" width="2.8" height="3.3" fill="#dd1a1a"/>
<line x1="464.22" y1="170.8" x2="464.22" y2="175.8" stroke="#3a3a3a" stroke-width="1"/>
<rect x="462.82" y="171.7" width="2.8" height="2.5" fill="#1d9a3c"/>
<line x1="468.08" y1="166.7" x2="468.08" y2="175.8" stroke="#3a3a3a" stroke-width="1"/>
<rect x="466.68" y="167.5" width="2.8" height="5.8" fill="#1d9a3c"/>
<line x1="471.93" y1="164.2" x2="471.93" y2="173.3" stroke="#3a3a3a" stroke-width="1"/>
<rect x="470.53" y="165.8" width="2.8" height="5.0" fill="#dd1a1a"/>
<line x1="475.79" y1="167.5" x2="475.79" y2="173.3" stroke="#3a3a3a" stroke-width="1"/>
<rect x="474.39" y="168.3" width="2.8" height="4.2" fill="#1d9a3c"/>
<line x1="479.64" y1="170.8" x2="479.64" y2="179.6" stroke="#3a3a3a" stroke-width="1"/>
<rect x="478.24" y="176.7" width="2.8" height="2.5" fill="#dd1a1a"/>
<line x1="483.50" y1="166.7" x2="483.50" y2="173.3" stroke="#3a3a3a" stroke-width="1"/>
<rect x="482.10" y="167.5" width="2.8" height="5.0" fill="#1d9a3c"/>
<line x1="487.36" y1="169.2" x2="487.36" y2="177.5" stroke="#3a3a3a" stroke-width="1"/>
<rect x="485.96" y="170.0" width="2.8" height="5.8" fill="#dd1a1a"/>
<line x1="491.21" y1="170.0" x2="491.21" y2="178.3" stroke="#3a3a3a" stroke-width="1"/>
<rect x="489.81" y="174.2" width="2.8" height="2.5" fill="#dd1a1a"/>
<line x1="495.07" y1="169.2" x2="495.07" y2="181.7" stroke="#3a3a3a" stroke-width="1"/>
<rect x="493.67" y="170.8" width="2.8" height="9.2" fill="#dd1a1a"/>
<line x1="498.92" y1="170.0" x2="498.92" y2="181.7" stroke="#3a3a3a" stroke-width="1"/>
<rect x="497.52" y="170.8" width="2.8" height="8.4" fill="#1d9a3c"/>
<line x1="502.78" y1="157.5" x2="502.78" y2="165.0" stroke="#3a3a3a" stroke-width="1"/>
<rect x="501.38" y="158.3" width="2.8" height="5.9" fill="#1d9a3c"/>
<line x1="506.64" y1="154.2" x2="506.64" y2="160.0" stroke="#3a3a3a" stroke-width="1"/>
<rect x="505.24" y="155.0" width="2.8" height="3.3" fill="#dd1a1a"/>
<line x1="510.49" y1="150.0" x2="510.49" y2="157.5" stroke="#3a3a3a" stroke-width="1"/>
<rect x="509.09" y="150.8" width="2.8" height="5.9" fill="#1d9a3c"/>
<line x1="514.35" y1="145.0" x2="514.35" y2="153.3" stroke="#3a3a3a" stroke-width="1"/>
<rect x="512.95" y="147.5" width="2.8" height="1.7" fill="#1d9a3c"/>
<line x1="518.20" y1="140.8" x2="518.20" y2="146.7" stroke="#3a3a3a" stroke-width="1"/>
<rect x="516.80" y="141.7" width="2.8" height="3.3" fill="#1d9a3c"/>
<line x1="522.06" y1="144.2" x2="522.06" y2="152.5" stroke="#3a3a3a" stroke-width="1"/>
<rect x="520.66" y="145.0" width="2.8" height="4.2" fill="#dd1a1a"/>
<line x1="525.92" y1="143.8" x2="525.92" y2="151.2" stroke="#3a3a3a" stroke-width="1"/>
<rect x="524.52" y="144.2" width="2.8" height="6.6" fill="#1d9a3c"/>
<line x1="529.77" y1="135.0" x2="529.77" y2="141.7" stroke="#3a3a3a" stroke-width="1"/>
<rect x="528.37" y="135.8" width="2.8" height="5.0" fill="#1d9a3c"/>
<line x1="533.63" y1="139.2" x2="533.63" y2="145.8" stroke="#3a3a3a" stroke-width="1"/>
<rect x="532.23" y="140.0" width="2.8" height="3.3" fill="#dd1a1a"/>
<line x1="537.48" y1="139.2" x2="537.48" y2="144.2" stroke="#3a3a3a" stroke-width="1"/>
<rect x="536.08" y="140.8" width="2.8" height="1.7" fill="#dd1a1a"/>
<line x1="541.34" y1="134.2" x2="541.34" y2="140.8" stroke="#3a3a3a" stroke-width="1"/>
<rect x="539.94" y="135.0" width="2.8" height="5.0" fill="#1d9a3c"/>
<line x1="545.20" y1="134.2" x2="545.20" y2="141.7" stroke="#3a3a3a" stroke-width="1"/>
<rect x="543.80" y="135.8" width="2.8" height="1.7" fill="#dd1a1a"/>
<line x1="549.05" y1="137.5" x2="549.05" y2="143.3" stroke="#3a3a3a" stroke-width="1"/>
<rect x="547.65" y="138.3" width="2.8" height="4.2" fill="#1d9a3c"/>
<line x1="552.91" y1="135.8" x2="552.91" y2="143.3" stroke="#3a3a3a" stroke-width="1"/>
<rect x="551.51" y="136.7" width="2.8" height="3.3" fill="#1d9a3c"/>
<line x1="556.76" y1="129.2" x2="556.76" y2="136.2" stroke="#3a3a3a" stroke-width="1"/>
<rect x="555.36" y="130.0" width="2.8" height="5.8" fill="#dd1a1a"/>
<line x1="560.62" y1="134.2" x2="560.62" y2="143.3" stroke="#3a3a3a" stroke-width="1"/>
<rect x="559.22" y="134.2" width="2.8" height="1.6" fill="#1d9a3c"/>
<line x1="564.48" y1="127.9" x2="564.48" y2="135.4" stroke="#3a3a3a" stroke-width="1"/>
<rect x="563.08" y="128.3" width="2.8" height="6.7" fill="#1d9a3c"/>
<line x1="568.33" y1="125.8" x2="568.33" y2="131.7" stroke="#3a3a3a" stroke-width="1"/>
<rect x="566.93" y="126.7" width="2.8" height="4.1" fill="#dd1a1a"/>
<line x1="572.19" y1="123.3" x2="572.19" y2="128.3" stroke="#3a3a3a" stroke-width="1"/>
<rect x="570.79" y="124.2" width="2.8" height="3.3" fill="#1d9a3c"/>
<line x1="576.04" y1="124.6" x2="576.04" y2="134.2" stroke="#3a3a3a" stroke-width="1"/>
<rect x="574.64" y="125.0" width="2.8" height="5.8" fill="#dd1a1a"/>
<line x1="579.90" y1="125.8" x2="579.90" y2="132.5" stroke="#3a3a3a" stroke-width="1"/>
<rect x="578.50" y="125.8" width="2.8" height="1.7" fill="#1d9a3c"/>
<line x1="583.76" y1="121.7" x2="583.76" y2="127.5" stroke="#3a3a3a" stroke-width="1"/>
<rect x="582.36" y="123.3" width="2.8" height="3.4" fill="#dd1a1a"/>
<line x1="587.61" y1="121.2" x2="587.61" y2="125.4" stroke="#3a3a3a" stroke-width="1"/>
<rect x="586.21" y="121.7" width="2.8" height="3.3" fill="#1d9a3c"/>
<line x1="591.47" y1="118.3" x2="591.47" y2="122.5" stroke="#3a3a3a" stroke-width="1"/>
<rect x="590.07" y="119.2" width="2.8" height="2.5" fill="#1d9a3c"/>
<line x1="595.32" y1="114.2" x2="595.32" y2="123.3" stroke="#3a3a3a" stroke-width="1"/>
<rect x="593.92" y="115.0" width="2.8" height="7.5" fill="#dd1a1a"/>
<line x1="599.18" y1="115.8" x2="599.18" y2="124.2" stroke="#3a3a3a" stroke-width="1"/>
<rect x="597.78" y="119.2" width="2.8" height="2.5" fill="#1d9a3c"/>
<line x1="603.04" y1="111.7" x2="603.04" y2="126.7" stroke="#3a3a3a" stroke-width="1"/>
<rect x="601.64" y="112.5" width="2.8" height="12.5" fill="#dd1a1a"/>
<line x1="606.89" y1="132.9" x2="606.89" y2="142.5" stroke="#3a3a3a" stroke-width="1"/>
<rect x="605.49" y="133.3" width="2.8" height="6.7" fill="#dd1a1a"/>
<line x1="610.75" y1="125.0" x2="610.75" y2="133.3" stroke="#3a3a3a" stroke-width="1"/>
<rect x="609.35" y="125.8" width="2.8" height="6.7" fill="#1d9a3c"/>
<line x1="614.60" y1="122.5" x2="614.60" y2="131.7" stroke="#3a3a3a" stroke-width="1"/>
<rect x="613.20" y="123.3" width="2.8" height="7.5" fill="#dd1a1a"/>
<line x1="618.46" y1="120.4" x2="618.46" y2="130.8" stroke="#3a3a3a" stroke-width="1"/>
<rect x="617.06" y="120.8" width="2.8" height="9.2" fill="#1d9a3c"/>
<line x1="622.32" y1="112.5" x2="622.32" y2="124.2" stroke="#3a3a3a" stroke-width="1"/>
<rect x="620.92" y="115.0" width="2.8" height="3.3" fill="#dd1a1a"/>
<line x1="626.17" y1="110.0" x2="626.17" y2="117.5" stroke="#3a3a3a" stroke-width="1"/>
<rect x="624.77" y="110.8" width="2.8" height="5.9" fill="#1d9a3c"/>
<line x1="630.03" y1="108.3" x2="630.03" y2="115.8" stroke="#3a3a3a" stroke-width="1"/>
<rect x="628.63" y="109.2" width="2.8" height="5.8" fill="#dd1a1a"/>
<line x1="633.88" y1="102.5" x2="633.88" y2="114.2" stroke="#3a3a3a" stroke-width="1"/>
<rect x="632.48" y="103.3" width="2.8" height="6.7" fill="#1d9a3c"/>
<line x1="637.74" y1="99.2" x2="637.74" y2="105.0" stroke="#3a3a3a" stroke-width="1"/>
<rect x="636.34" y="100.0" width="2.8" height="3.3" fill="#dd1a1a"/>
<line x1="641.60" y1="100.8" x2="641.60" y2="105.8" stroke="#3a3a3a" stroke-width="1"/>
<rect x="640.20" y="102.5" width="2.8" height="2.5" fill="#1d9a3c"/>
<line x1="645.45" y1="103.8" x2="645.45" y2="110.0" stroke="#3a3a3a" stroke-width="1"/>
<rect x="644.05" y="104.2" width="2.8" height="3.3" fill="#dd1a1a"/>
<line x1="649.31" y1="106.7" x2="649.31" y2="110.8" stroke="#3a3a3a" stroke-width="1"/>
<rect x="647.91" y="107.5" width="2.8" height="2.5" fill="#1d9a3c"/>
<line x1="653.16" y1="107.9" x2="653.16" y2="120.0" stroke="#3a3a3a" stroke-width="1"/>
<rect x="651.76" y="108.3" width="2.8" height="9.2" fill="#dd1a1a"/>
<line x1="657.02" y1="119.2" x2="657.02" y2="132.5" stroke="#3a3a3a" stroke-width="1"/>
<rect x="655.62" y="120.0" width="2.8" height="4.2" fill="#dd1a1a"/>
<line x1="660.88" y1="123.3" x2="660.88" y2="130.8" stroke="#3a3a3a" stroke-width="1"/>
<rect x="659.48" y="124.2" width="2.8" height="3.3" fill="#dd1a1a"/>
<line x1="664.73" y1="111.7" x2="664.73" y2="127.5" stroke="#3a3a3a" stroke-width="1"/>
<rect x="663.33" y="114.2" width="2.8" height="10.8" fill="#1d9a3c"/>
<line x1="668.59" y1="112.5" x2="668.59" y2="119.2" stroke="#3a3a3a" stroke-width="1"/>
<rect x="667.19" y="114.2" width="2.8" height="2.5" fill="#dd1a1a"/>
<line x1="672.44" y1="112.5" x2="672.44" y2="119.2" stroke="#3a3a3a" stroke-width="1"/>
<rect x="671.04" y="114.2" width="2.8" height="4.1" fill="#1d9a3c"/>
<line x1="676.30" y1="110.8" x2="676.30" y2="115.8" stroke="#3a3a3a" stroke-width="1"/>
<rect x="674.90" y="112.5" width="2.8" height="2.5" fill="#1d9a3c"/>
<line x1="680.16" y1="105.8" x2="680.16" y2="114.2" stroke="#3a3a3a" stroke-width="1"/>
<rect x="678.76" y="107.5" width="2.8" height="4.2" fill="#1d9a3c"/>
<line x1="684.01" y1="110.0" x2="684.01" y2="120.0" stroke="#3a3a3a" stroke-width="1"/>
<rect x="682.61" y="110.8" width="2.8" height="6.7" fill="#dd1a1a"/>
<line x1="687.87" y1="123.8" x2="687.87" y2="133.3" stroke="#3a3a3a" stroke-width="1"/>
<rect x="686.47" y="124.2" width="2.8" height="7.5" fill="#1d9a3c"/>
<line x1="691.72" y1="115.8" x2="691.72" y2="123.3" stroke="#3a3a3a" stroke-width="1"/>
<rect x="690.32" y="116.7" width="2.8" height="3.3" fill="#1d9a3c"/>
<line x1="695.58" y1="109.2" x2="695.58" y2="120.0" stroke="#3a3a3a" stroke-width="1"/>
<rect x="694.18" y="110.8" width="2.8" height="6.7" fill="#1d9a3c"/>
<line x1="699.44" y1="101.7" x2="699.44" y2="115.8" stroke="#3a3a3a" stroke-width="1"/>
<rect x="698.04" y="102.5" width="2.8" height="6.7" fill="#dd1a1a"/>
<line x1="703.29" y1="102.5" x2="703.29" y2="108.3" stroke="#3a3a3a" stroke-width="1"/>
<rect x="701.89" y="104.2" width="2.8" height="2.5" fill="#1d9a3c"/>
<line x1="707.15" y1="102.5" x2="707.15" y2="109.2" stroke="#3a3a3a" stroke-width="1"/>
<rect x="705.75" y="103.3" width="2.8" height="1.7" fill="#1d9a3c"/>
<line x1="711.00" y1="98.3" x2="711.00" y2="105.8" stroke="#3a3a3a" stroke-width="1"/>
<rect x="709.60" y="99.2" width="2.8" height="4.1" fill="#dd1a1a"/>
<line x1="714.86" y1="96.7" x2="714.86" y2="101.7" stroke="#3a3a3a" stroke-width="1"/>
<rect x="713.46" y="97.5" width="2.8" height="2.5" fill="#1d9a3c"/>
<line x1="718.72" y1="92.5" x2="718.72" y2="98.3" stroke="#3a3a3a" stroke-width="1"/>
<rect x="717.32" y="93.3" width="2.8" height="4.2" fill="#1d9a3c"/>
<line x1="722.57" y1="87.5" x2="722.57" y2="92.5" stroke="#3a3a3a" stroke-width="1"/>
<rect x="721.17" y="88.3" width="2.8" height="3.4" fill="#1d9a3c"/>
<line x1="726.43" y1="85.0" x2="726.43" y2="90.0" stroke="#3a3a3a" stroke-width="1"/>
<rect x="725.03" y="85.8" width="2.8" height="3.4" fill="#dd1a1a"/>
<line x1="730.28" y1="87.5" x2="730.28" y2="98.3" stroke="#3a3a3a" stroke-width="1"/>
<rect x="728.88" y="88.0" width="2.8" height="2.0" fill="#dd1a1a"/>
<line x1="734.14" y1="78.3" x2="734.14" y2="85.8" stroke="#3a3a3a" stroke-width="1"/>
<rect x="732.74" y="80.0" width="2.8" height="4.2" fill="#1d9a3c"/>
<line x1="738.00" y1="75.0" x2="738.00" y2="81.7" stroke="#3a3a3a" stroke-width="1"/>
<rect x="736.60" y="75.8" width="2.8" height="5.0" fill="#1d9a3c"/>
<line x1="741.85" y1="70.0" x2="741.85" y2="78.3" stroke="#3a3a3a" stroke-width="1"/>
<rect x="740.45" y="70.8" width="2.8" height="6.7" fill="#1d9a3c"/>
<line x1="745.71" y1="70.8" x2="745.71" y2="80.0" stroke="#3a3a3a" stroke-width="1"/>
<rect x="744.31" y="71.7" width="2.8" height="6.6" fill="#dd1a1a"/>
<line x1="749.56" y1="75.0" x2="749.56" y2="85.0" stroke="#3a3a3a" stroke-width="1"/>
<rect x="748.16" y="75.8" width="2.8" height="4.2" fill="#dd1a1a"/>
<line x1="753.42" y1="81.7" x2="753.42" y2="91.7" stroke="#3a3a3a" stroke-width="1"/>
<rect x="752.02" y="83.3" width="2.8" height="2.5" fill="#1d9a3c"/>
<line x1="757.28" y1="80.0" x2="757.28" y2="88.3" stroke="#3a3a3a" stroke-width="1"/>
<rect x="755.88" y="80.0" width="2.8" height="3.3" fill="#1d9a3c"/>
<line x1="761.13" y1="71.7" x2="761.13" y2="79.2" stroke="#3a3a3a" stroke-width="1"/>
<rect x="759.73" y="75.0" width="2.8" height="2.5" fill="#dd1a1a"/>
<line x1="764.99" y1="73.8" x2="764.99" y2="80.8" stroke="#3a3a3a" stroke-width="1"/>
<rect x="763.59" y="74.2" width="2.8" height="5.0" fill="#1d9a3c"/>
<line x1="768.84" y1="69.6" x2="768.84" y2="80.4" stroke="#3a3a3a" stroke-width="1"/>
<rect x="767.44" y="70.0" width="2.8" height="10.0" fill="#1d9a3c"/>
<line x1="772.70" y1="65.0" x2="772.70" y2="71.7" stroke="#3a3a3a" stroke-width="1"/>
<rect x="771.30" y="65.8" width="2.8" height="1.7" fill="#dd1a1a"/>
<line x1="776.56" y1="64.0" x2="776.56" y2="74.2" stroke="#3a3a3a" stroke-width="1"/>
<rect x="775.16" y="65.0" width="2.8" height="5.8" fill="#dd1a1a"/>
<line x1="780.41" y1="62.5" x2="780.41" y2="67.5" stroke="#3a3a3a" stroke-width="1"/>
<rect x="779.01" y="63.3" width="2.8" height="2.5" fill="#dd1a1a"/>
<line x1="784.27" y1="61.7" x2="784.27" y2="70.8" stroke="#3a3a3a" stroke-width="1"/>
<rect x="782.87" y="62.5" width="2.8" height="6.7" fill="#dd1a1a"/>
<line x1="788.12" y1="58.8" x2="788.12" y2="68.0" stroke="#3a3a3a" stroke-width="1"/>
<rect x="786.72" y="59.2" width="2.8" height="8.3" fill="#1d9a3c"/>
<line x1="791.98" y1="58.3" x2="791.98" y2="65.0" stroke="#3a3a3a" stroke-width="1"/>
<rect x="790.58" y="59.2" width="2.8" height="1.6" fill="#dd1a1a"/>
<line x1="795.84" y1="57.5" x2="795.84" y2="91.7" stroke="#3a3a3a" stroke-width="1"/>
<rect x="794.44" y="58.3" width="2.8" height="31.7" fill="#dd1a1a"/>
<line x1="799.69" y1="70.8" x2="799.69" y2="79.2" stroke="#3a3a3a" stroke-width="1"/>
<rect x="798.29" y="71.7" width="2.8" height="4.1" fill="#1d9a3c"/>
<line x1="803.55" y1="71.7" x2="803.55" y2="88.3" stroke="#3a3a3a" stroke-width="1"/>
<rect x="802.15" y="76.7" width="2.8" height="6.6" fill="#1d9a3c"/>
<line x1="807.40" y1="66.7" x2="807.40" y2="80.0" stroke="#3a3a3a" stroke-width="1"/>
<rect x="806.00" y="69.2" width="2.8" height="2.5" fill="#dd1a1a"/>
<line x1="811.26" y1="64.2" x2="811.26" y2="80.8" stroke="#3a3a3a" stroke-width="1"/>
<rect x="809.86" y="67.5" width="2.8" height="7.5" fill="#dd1a1a"/>
<line x1="815.12" y1="67.5" x2="815.12" y2="80.8" stroke="#3a3a3a" stroke-width="1"/>
<rect x="813.72" y="69.2" width="2.8" height="8.3" fill="#1d9a3c"/>
<line x1="818.97" y1="56.7" x2="818.97" y2="65.0" stroke="#3a3a3a" stroke-width="1"/>
<rect x="817.57" y="57.5" width="2.8" height="6.7" fill="#1d9a3c"/>
<line x1="822.83" y1="56.7" x2="822.83" y2="62.5" stroke="#3a3a3a" stroke-width="1"/>
<rect x="821.43" y="57.5" width="2.8" height="2.5" fill="#dd1a1a"/>
<line x1="826.68" y1="59.2" x2="826.68" y2="75.0" stroke="#3a3a3a" stroke-width="1"/>
<rect x="825.28" y="60.0" width="2.8" height="7.5" fill="#dd1a1a"/>
<line x1="830.54" y1="59.2" x2="830.54" y2="69.2" stroke="#3a3a3a" stroke-width="1"/>
<rect x="829.14" y="60.0" width="2.8" height="8.3" fill="#1d9a3c"/>
<line x1="834.40" y1="49.2" x2="834.40" y2="54.2" stroke="#3a3a3a" stroke-width="1"/>
<rect x="833.00" y="50.0" width="2.8" height="3.3" fill="#1d9a3c"/>
<line x1="838.25" y1="34.2" x2="838.25" y2="41.7" stroke="#3a3a3a" stroke-width="1"/>
<rect x="836.85" y="35.0" width="2.8" height="5.8" fill="#1d9a3c"/>
<line x1="842.11" y1="26.7" x2="842.11" y2="34.2" stroke="#3a3a3a" stroke-width="1"/>
<rect x="840.71" y="27.5" width="2.8" height="5.0" fill="#1d9a3c"/>
<line x1="845.96" y1="23.3" x2="845.96" y2="32.5" stroke="#3a3a3a" stroke-width="1"/>
<rect x="844.56" y="24.2" width="2.8" height="1.6" fill="#dd1a1a"/>
<line x1="849.82" y1="29.2" x2="849.82" y2="39.2" stroke="#3a3a3a" stroke-width="1"/>
<rect x="848.42" y="30.0" width="2.8" height="8.3" fill="#dd1a1a"/>
<line x1="853.68" y1="26.7" x2="853.68" y2="37.5" stroke="#3a3a3a" stroke-width="1"/>
<rect x="852.28" y="27.5" width="2.8" height="6.7" fill="#dd1a1a"/>
<line x1="857.53" y1="25.0" x2="857.53" y2="30.0" stroke="#3a3a3a" stroke-width="1"/>
<rect x="856.13" y="25.3" width="2.8" height="3.9" fill="#dd1a1a"/>
<line x1="861.39" y1="37.5" x2="861.39" y2="50.0" stroke="#3a3a3a" stroke-width="1"/>
<rect x="859.99" y="43.3" width="2.8" height="5.9" fill="#dd1a1a"/>
<line x1="865.24" y1="37.5" x2="865.24" y2="51.7" stroke="#3a3a3a" stroke-width="1"/>
<rect x="863.84" y="41.7" width="2.8" height="7.5" fill="#1d9a3c"/>
<line x1="869.10" y1="43.8" x2="869.10" y2="60.8" stroke="#3a3a3a" stroke-width="1"/>
<rect x="867.70" y="44.2" width="2.8" height="15.8" fill="#dd1a1a"/>
<line x1="872.96" y1="61.7" x2="872.96" y2="77.5" stroke="#3a3a3a" stroke-width="1"/>
<rect x="871.56" y="61.7" width="2.8" height="2.5" fill="#1d9a3c"/>
</g>
<line x1="1" y1="428.6" x2="889.4" y2="428.6" stroke="#c84f5a" stroke-width="1.2"/>
<line x1="1" y1="478.7" x2="889.4" y2="478.7" stroke="#88c898" stroke-width="1.5"/>
<polyline points="0.0,436.7 8.3,427.5 12.5,431.7 16.7,454.2 20.0,457.5 26.7,450.8 31.7,441.7 35.0,442.5 40.0,451.7 45.0,459.2 49.2,461.7 50.8,461.7 54.2,453.3 58.3,447.5 62.5,457.5 66.7,457.5 70.8,463.3 78.3,465.0 82.5,453.3 85.8,456.7 90.0,448.3 94.2,445.8 97.5,441.7 101.3,440.0 105.0,443.3 109.2,458.3 113.0,451.7 120.0,451.5 124.2,451.7 128.3,455.8 132.5,449.2 135.8,447.5 139.7,445.0 143.3,452.5 147.5,446.7 151.3,448.3 155.0,448.3 159.2,441.7 163.3,439.2 166.7,438.3 170.0,438.3 174.2,442.5 179.2,456.7 182.5,462.5 186.7,468.3 190.0,466.7 194.2,477.5 198.3,467.5 201.7,473.3 205.8,475.0 209.5,468.3 213.3,476.7 217.2,472.5 220.8,481.7 224.7,482.5 228.7,477.5 232.5,480.8 236.3,469.2 240.0,467.5 243.7,472.5 247.5,466.7 251.7,467.5 255.3,466.7 259.2,457.5 263.0,454.2 267.0,461.7 270.8,464.2 274.7,471.7 278.7,471.7 285.8,463.3 290.8,478.3 294.7,487.5 298.3,486.7 302.5,489.2 306.3,457.5 310.0,464.2 313.8,460.0 317.5,459.2 321.3,458.3 325.0,464.2 329.2,464.2 332.8,468.3 336.7,461.7 340.8,455.0 344.7,450.0 348.3,448.3 352.5,448.3 356.3,447.5 360.0,446.7 363.3,444.2 367.5,440.0 371.7,443.3 375.3,446.7 379.2,445.8 383.0,442.5 386.7,442.5 390.5,431.7 394.2,428.3 398.3,427.5 402.0,426.7 405.8,426.2 410.0,426.2 413.8,428.3 417.5,436.7 421.3,436.7 425.3,441.7 429.2,433.3 433.3,436.7 437.0,435.0 440.8,436.7 444.7,433.3 448.3,430.0 452.2,430.0 456.2,435.8 460.0,431.7 463.7,430.8 467.5,428.3 471.3,432.5 475.0,430.8 479.2,441.7 483.0,435.8 487.0,442.5 490.8,443.3 494.7,445.8 498.3,440.0 502.5,433.3 506.3,432.5 510.3,428.3 514.2,427.5 518.0,424.7 522.0,433.3 525.8,430.8 529.7,426.2 533.7,433.3 537.5,433.3 541.3,430.0 545.3,431.7 549.2,433.3 553.0,431.7 556.7,430.8 560.5,430.8 564.2,426.7 568.0,427.5 571.7,425.0 575.8,431.7 579.7,428.3 583.3,427.5 587.5,426.7 591.3,424.2 595.0,427.5 598.7,426.7 603.0,434.2 606.3,456.7 610.0,442.5 614.7,448.3 618.3,441.7 622.5,438.3 626.3,434.2 630.0,437.5 634.2,430.8 638.0,430.8 641.7,431.7 645.8,436.7 649.5,436.7 653.3,450.0 657.2,455.0 660.8,457.5 664.7,447.5 668.3,449.2 672.2,446.7 676.2,445.8 679.7,441.7 683.3,451.7 687.0,458.3 690.8,451.7 695.0,445.8 699.2,445.0 702.8,441.7 706.7,439.2 710.5,439.2 714.5,435.0 718.3,432.5 723.3,428.3 727.0,430.0 730.5,433.3 734.2,426.7 738.0,423.3 741.7,420.8 745.5,430.8 749.5,435.0 753.3,439.2 757.0,436.7 760.8,434.2 764.7,432.5 768.3,429.2 772.5,426.7 776.3,432.5 780.0,427.5 784.2,435.0 788.0,427.5 791.7,430.0 795.5,460.0 799.2,447.5 803.0,451.7 807.0,447.9 810.8,450.3 815.0,446.5 818.8,440.6 822.2,440.6 826.4,448.0 830.3,443.0 834.0,438.2 838.2,430.6 841.7,428.5 845.8,427.1 849.7,437.8 853.5,435.4 857.0,434.0 861.1,448.6 865.0,445.0 868.8,455.3 872.9,457.5" fill="none" stroke="#42429e" stroke-width="1.05" stroke-linejoin="round" stroke-linecap="round" />
<rect x="0" y="0" width="892" height="1.2" fill="#f2f2f2"/>
<line x1="0.5" y1="0" x2="0.5" y2="385.5" stroke="#b4b4b4" stroke-width="1.2"/>
<line x1="0" y1="385.6" x2="893" y2="385.6" stroke="#c0c0c0" stroke-width="1.1"/>
<line x1="892.5" y1="0" x2="892.5" y2="385.5" stroke="#b4b4b4" stroke-width="1.2"/>
<line x1="0" y1="389.4" x2="893" y2="389.4" stroke="#c0c0c0" stroke-width="1.1"/>
<line x1="0.5" y1="389.8" x2="0.5" y2="519.5" stroke="#b4b4b4" stroke-width="1.2"/>
<line x1="892.5" y1="389.8" x2="892.5" y2="519.5" stroke="#b4b4b4" stroke-width="1.2"/>
<line x1="0" y1="519.4" x2="893" y2="519.4" stroke="#999" stroke-width="1.2"/>
<g font-family="Liberation Sans, sans-serif" font-size="10" letter-spacing="-0.08" fill="#262626">
<line x1="892" y1="369.75" x2="895" y2="369.75" stroke="#888" stroke-width="1"/>
<text x="896.6" y="374.0">16000.00</text>
<line x1="892" y1="352.72" x2="895" y2="352.72" stroke="#888" stroke-width="1"/>
<text x="896.6" y="357.0">16500.00</text>
<line x1="892" y1="335.69" x2="895" y2="335.69" stroke="#888" stroke-width="1"/>
<text x="896.6" y="340.0">17000.00</text>
<line x1="892" y1="318.67" x2="895" y2="318.67" stroke="#888" stroke-width="1"/>
<text x="896.6" y="323.0">17500.00</text>
<line x1="892" y1="301.64" x2="895" y2="301.64" stroke="#888" stroke-width="1"/>
<text x="896.6" y="305.9">18000.00</text>
<line x1="892" y1="284.62" x2="895" y2="284.62" stroke="#888" stroke-width="1"/>
<text x="896.6" y="288.9">18500.00</text>
<line x1="892" y1="267.59" x2="895" y2="267.59" stroke="#888" stroke-width="1"/>
<text x="896.6" y="271.9">19000.00</text>
<line x1="892" y1="250.56" x2="895" y2="250.56" stroke="#888" stroke-width="1"/>
<text x="896.6" y="254.9">19500.00</text>
<line x1="892" y1="233.54" x2="895" y2="233.54" stroke="#888" stroke-width="1"/>
<text x="896.6" y="237.8">20000.00</text>
<line x1="892" y1="216.51" x2="895" y2="216.51" stroke="#888" stroke-width="1"/>
<text x="896.6" y="220.8">20500.00</text>
<line x1="892" y1="199.49" x2="895" y2="199.49" stroke="#888" stroke-width="1"/>
<text x="896.6" y="203.8">21000.00</text>
<line x1="892" y1="182.46" x2="895" y2="182.46" stroke="#888" stroke-width="1"/>
<text x="896.6" y="186.8">21500.00</text>
<line x1="892" y1="165.43" x2="895" y2="165.43" stroke="#888" stroke-width="1"/>
<text x="896.6" y="169.7">22000.00</text>
<line x1="892" y1="148.41" x2="895" y2="148.41" stroke="#888" stroke-width="1"/>
<text x="896.6" y="152.7">22500.00</text>
<line x1="892" y1="131.38" x2="895" y2="131.38" stroke="#888" stroke-width="1"/>
<text x="896.6" y="135.7">23000.00</text>
<line x1="892" y1="114.36" x2="895" y2="114.36" stroke="#888" stroke-width="1"/>
<text x="896.6" y="118.7">23500.00</text>
<line x1="892" y1="97.33" x2="895" y2="97.33" stroke="#888" stroke-width="1"/>
<text x="896.6" y="101.6">24000.00</text>
<line x1="892" y1="80.30" x2="895" y2="80.30" stroke="#888" stroke-width="1"/>
<text x="896.6" y="84.6">24500.00</text>
<line x1="892" y1="63.28" x2="895" y2="63.28" stroke="#888" stroke-width="1"/>
<text x="896.6" y="67.6">25000.00</text>
<line x1="892" y1="46.25" x2="895" y2="46.25" stroke="#888" stroke-width="1"/>
<text x="896.6" y="50.6">25500.00</text>
<line x1="892" y1="29.23" x2="895" y2="29.23" stroke="#888" stroke-width="1"/>
<text x="896.6" y="33.5">26000.00</text>
<line x1="892" y1="12.20" x2="895" y2="12.20" stroke="#888" stroke-width="1"/>
<text x="896.6" y="16.5">26500.00</text>
<line x1="892" y1="415.8" x2="895" y2="415.8" stroke="#888" stroke-width="1"/>
<text x="897" y="419.8">80</text>
<line x1="892" y1="441.5" x2="895" y2="441.5" stroke="#888" stroke-width="1"/>
<text x="897" y="445.5">60</text>
<line x1="892" y1="467.2" x2="895" y2="467.2" stroke="#888" stroke-width="1"/>
<text x="897" y="471.2">40</text>
<line x1="892" y1="493.0" x2="895" y2="493.0" stroke="#888" stroke-width="1"/>
<text x="897" y="497.0">20</text>
<line x1="49.5" y1="519" x2="49.5" y2="521.5" stroke="#888" stroke-width="1"/>
<text x="49.5" y="531.8" text-anchor="middle">Jan. ’25</text>
<line x1="126.5" y1="519" x2="126.5" y2="521.5" stroke="#888" stroke-width="1"/>
<text x="126.5" y="531.8" text-anchor="middle">Feb. ’25</text>
<line x1="199.5" y1="519" x2="199.5" y2="521.5" stroke="#888" stroke-width="1"/>
<text x="199.5" y="531.8" text-anchor="middle">März ’25</text>
<line x1="280.5" y1="519" x2="280.5" y2="521.5" stroke="#888" stroke-width="1"/>
<text x="280.5" y="531.8" text-anchor="middle">Apr. ’25</text>
<line x1="362" y1="519" x2="362" y2="521.5" stroke="#888" stroke-width="1"/>
<text x="362" y="531.8" text-anchor="middle">Mai ’25</text>
<line x1="442.5" y1="519" x2="442.5" y2="521.5" stroke="#888" stroke-width="1"/>
<text x="442.5" y="531.8" text-anchor="middle">Juni ’25</text>
<line x1="519.5" y1="519" x2="519.5" y2="521.5" stroke="#888" stroke-width="1"/>
<text x="519.5" y="531.8" text-anchor="middle">Juli ’25</text>
<line x1="604.5" y1="519" x2="604.5" y2="521.5" stroke="#888" stroke-width="1"/>
<text x="604.5" y="531.8" text-anchor="middle">Aug. ’25</text>
<line x1="685.75" y1="519" x2="685.75" y2="521.5" stroke="#888" stroke-width="1"/>
<text x="685.75" y="531.8" text-anchor="middle">Sept. ’25</text>
<line x1="766.5" y1="519" x2="766.5" y2="521.5" stroke="#888" stroke-width="1"/>
<text x="766.5" y="531.8" text-anchor="middle">Okt. ’25</text>
<text x="0" y="0" transform="translate(943.9,192.6) rotate(90)" text-anchor="middle" font-size="9.5">Kurs</text>
<text x="0" y="0" transform="translate(914,454.6) rotate(90)" text-anchor="middle" font-size="9.5">RSI</text>
</g>
<rect x="659" y="333" width="222" height="30" fill="#d6d6d6" opacity="0.85"/>
<text x="664.6" y="343.7" font-family="Liberation Sans, sans-serif" font-size="7.9" font-weight="bold" fill="#111" stroke="#111" stroke-width="0.25">NDX@NASDAQ</text>
<circle cx="730.9" cy="341.2" r="3.15" fill="#9dbad8" stroke="#48688f" stroke-width="1.1"/>
<path d="M729.3,340.59999999999997 q1.2,-1.6 2.4,-0.8 q0.4,1.2 -0.6,1.6 q-0.2,1.2 -1.2,0.8 z" fill="#3f5f86"/>
<line x1="665.5" y1="354.6" x2="679" y2="354.6" stroke="#1a1a8a" stroke-width="2"/>
<g font-family="Liberation Sans, sans-serif" font-size="8.4" fill="#333">
<text x="681" y="358.7">SMA(20)</text>
<text x="751" y="358.7">SMA(200)</text>
<text x="825.5" y="358.7">SMA(50)</text>
</g>
<rect x="719" y="352.6" width="5.5" height="5.2" fill="#f3f5f9"/>
<path d="M719.9,355.0 l1.6,1.9 l2.4,-3.3" fill="none" stroke="#2d69cf" stroke-width="1.35"/>
<circle cx="731.6" cy="355.3" r="3.15" fill="#9dbad8" stroke="#48688f" stroke-width="1.1"/>
<path d="M730.0,354.7 q1.2,-1.6 2.4,-0.8 q0.4,1.2 -0.6,1.6 q-0.2,1.2 -1.2,0.8 z" fill="#3f5f86"/>
<line x1="735" y1="354.6" x2="749" y2="354.6" stroke="#111" stroke-width="2"/>
<rect x="793.2" y="352.6" width="5.5" height="5.2" fill="#f3f5f9"/>
<path d="M794.1,355.0 l1.6,1.9 l2.4,-3.3" fill="none" stroke="#2d69cf" stroke-width="1.35"/>
<circle cx="806" cy="355.3" r="3.15" fill="#9dbad8" stroke="#48688f" stroke-width="1.1"/>
<path d="M804.4,354.7 q1.2,-1.6 2.4,-0.8 q0.4,1.2 -0.6,1.6 q-0.2,1.2 -1.2,0.8 z" fill="#3f5f86"/>
<line x1="810" y1="354.6" x2="823" y2="354.6" stroke="#c9a2ee" stroke-width="2"/>
<rect x="863.2" y="352.6" width="5.5" height="5.2" fill="#f3f5f9"/>
<path d="M864.1,355.0 l1.6,1.9 l2.4,-3.3" fill="none" stroke="#2d69cf" stroke-width="1.35"/>
<circle cx="875.8" cy="355.3" r="3.15" fill="#9dbad8" stroke="#48688f" stroke-width="1.1"/>
<path d="M874.1999999999999,354.7 q1.2,-1.6 2.4,-0.8 q0.4,1.2 -0.6,1.6 q-0.2,1.2 -1.2,0.8 z" fill="#3f5f86"/>
<rect x="2" y="391.2" width="74.7" height="12.2" fill="#d6d6d6" opacity="0.85"/>
<text x="6.9" y="400.3" font-family="Liberation Sans, sans-serif" font-size="8.2" font-weight="bold" fill="#111" stroke="#111" stroke-width="0.3">RSI</text>
<line x1="33" y1="396.8" x2="46" y2="396.8" stroke="#1a1a8a" stroke-width="2"/>
<text x="48.5" y="400.6" font-family="Liberation Sans, sans-serif" font-size="8.4" fill="#333">(14)</text>
<circle cx="71.3" cy="397.2" r="3.15" fill="#9dbad8" stroke="#48688f" stroke-width="1.1"/>
<path d="M69.7,396.59999999999997 q1.2,-1.6 2.4,-0.8 q0.4,1.2 -0.6,1.6 q-0.2,1.2 -1.2,0.8 z" fill="#3f5f86"/>
</svg>
</body></html>
